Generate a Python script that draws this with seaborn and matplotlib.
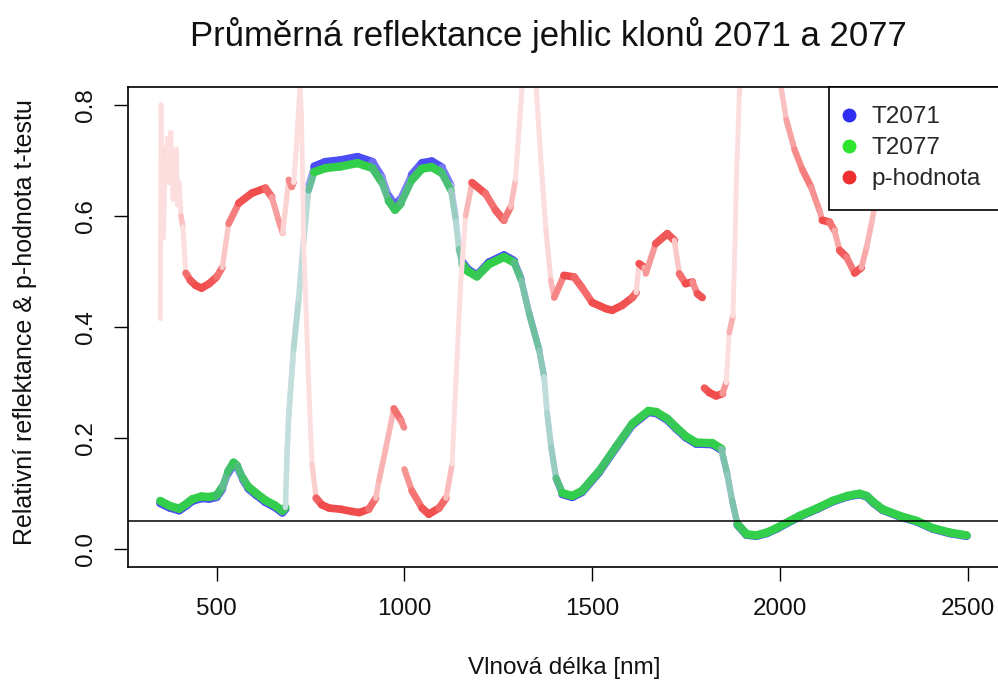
import numpy as np
import pandas as pd
import matplotlib
matplotlib.use("Agg")
import matplotlib.pyplot as plt
from matplotlib.lines import Line2D
from matplotlib.collections import LineCollection
from matplotlib.colors import to_rgb
import seaborn as sns

# ---------------- data ----------------
wl_refl = [350, 375, 400, 420, 435, 460, 480, 500, 515, 530, 545, 555, 570, 585, 605,
           630, 655, 675, 683, 688, 692, 705, 719, 732, 745, 760, 790, 830, 875, 915,
           940, 958, 975, 990, 1020, 1047, 1073, 1100, 1124, 1137, 1145, 1155, 1170,
           1193, 1225, 1265, 1292, 1311, 1332, 1359, 1372, 1380, 1391, 1404, 1421,
           1447, 1473, 1519, 1564, 1607, 1650, 1671, 1700, 1724, 1750, 1777, 1820,
           1844, 1860, 1873, 1887, 1911, 1937, 1965, 1991, 2052, 2100, 2140, 2180,
           2212, 2231, 2250, 2273, 2319, 2364, 2407, 2452, 2497]

t2077 = [0.087, 0.078, 0.073, 0.082, 0.090, 0.095, 0.094, 0.097, 0.112, 0.140, 0.156,
         0.150, 0.128, 0.112, 0.101, 0.088, 0.079, 0.069, 0.075, 0.180, 0.240, 0.360,
         0.450, 0.556, 0.646, 0.679, 0.686, 0.689, 0.695, 0.686, 0.660, 0.627, 0.611,
         0.622, 0.665, 0.685, 0.688, 0.677, 0.646, 0.590, 0.540, 0.512, 0.500, 0.491,
         0.513, 0.526, 0.516, 0.484, 0.424, 0.358, 0.310, 0.245, 0.183, 0.128, 0.101,
         0.096, 0.105, 0.141, 0.185, 0.226, 0.249, 0.247, 0.235, 0.219, 0.203, 0.192,
         0.191, 0.181, 0.135, 0.087, 0.045, 0.027, 0.025, 0.030, 0.038, 0.060, 0.074,
         0.087, 0.096, 0.100, 0.096, 0.084, 0.072, 0.060, 0.051, 0.038, 0.030, 0.025]

t2071 = [0.083, 0.075, 0.070, 0.079, 0.087, 0.092, 0.091, 0.094, 0.108, 0.136, 0.152,
         0.147, 0.125, 0.109, 0.098, 0.085, 0.076, 0.066, 0.072, 0.180, 0.242, 0.365,
         0.458, 0.565, 0.656, 0.689, 0.697, 0.700, 0.706, 0.697, 0.670, 0.636, 0.619,
         0.630, 0.674, 0.695, 0.698, 0.687, 0.655, 0.598, 0.546, 0.516, 0.503, 0.493,
         0.516, 0.529, 0.519, 0.487, 0.426, 0.359, 0.311, 0.246, 0.183, 0.127, 0.099,
         0.094, 0.103, 0.139, 0.183, 0.224, 0.247, 0.245, 0.233, 0.217, 0.201, 0.190,
         0.189, 0.179, 0.133, 0.086, 0.044, 0.026, 0.024, 0.029, 0.037, 0.059, 0.073,
         0.086, 0.095, 0.099, 0.095, 0.083, 0.071, 0.059, 0.050, 0.037, 0.029, 0.024]

# p-values, three detector segments
p_wl_a = [350, 352, 355, 358, 360, 363, 366, 369, 372, 375, 378, 381, 384, 387, 390,
          393, 396, 400, 405, 410, 418, 430, 444, 460, 480, 500, 515, 532, 559, 594,
          630, 647, 665, 676, 686, 692, 700, 705, 712, 718, 722, 726, 732, 745, 754,
          765, 780, 800, 830, 860, 880, 905, 924, 932, 950, 972, 991, 999]
p_val_a = [0.415, 0.800, 0.650, 0.560, 0.610, 0.720, 0.700, 0.740, 0.660, 0.720,
           0.750, 0.690, 0.630, 0.700, 0.670, 0.720, 0.620, 0.660, 0.600, 0.580,
           0.497, 0.484, 0.475, 0.470, 0.478, 0.490, 0.507, 0.586, 0.623, 0.641,
           0.650, 0.634, 0.592, 0.569, 0.630, 0.665, 0.652, 0.660, 0.720, 0.790,
           0.830, 0.780, 0.545, 0.300, 0.153, 0.092, 0.080, 0.074, 0.072, 0.068,
           0.066, 0.072, 0.092, 0.123, 0.180, 0.253, 0.232, 0.219]

p_wl_b = [1000, 1020, 1047, 1065, 1092, 1111, 1127, 1137, 1150, 1163, 1180, 1216,
          1243, 1265, 1283, 1296, 1305, 1313, 1325, 1335, 1345, 1351, 1364, 1377,
          1390, 1399, 1425, 1452, 1473, 1500, 1537, 1553, 1580, 1607, 1617, 1625,
          1639, 1643, 1669, 1700, 1719, 1732, 1749, 1767, 1780, 1793]
p_val_b = [0.144, 0.105, 0.074, 0.063, 0.074, 0.092, 0.153, 0.300, 0.480, 0.600,
           0.660, 0.640, 0.610, 0.592, 0.616, 0.665, 0.755, 0.827, 0.950, 1.000,
           0.950, 0.830, 0.695, 0.574, 0.484, 0.453, 0.493, 0.490, 0.471, 0.444,
           0.433, 0.430, 0.439, 0.453, 0.462, 0.514, 0.507, 0.496, 0.550, 0.568,
           0.556, 0.496, 0.478, 0.481, 0.460, 0.453]

p_wl_c = [1799, 1812, 1830, 1847, 1857, 1865, 1875, 1880, 1884, 1892, 1910, 1950,
          1990, 2004, 2017, 2039, 2060, 2083, 2105, 2113, 2132, 2145, 2159, 2177,
          2199, 2217, 2231, 2244, 2252, 2262, 2275, 2300, 2400, 2500]
p_val_c = [0.290, 0.282, 0.276, 0.280, 0.300, 0.390, 0.420, 0.544, 0.665, 0.820,
           0.950, 1.000, 0.900, 0.827, 0.773, 0.719, 0.683, 0.652, 0.610, 0.592,
           0.589, 0.574, 0.538, 0.526, 0.497, 0.507, 0.544, 0.587, 0.616, 0.680,
           0.780, 0.880, 0.950, 0.970]

series_labels = ["T2071", "T2077", "p-hodnota"]
x_ticks = [500, 1000, 1500, 2000, 2500]
y_ticks = [0.0, 0.2, 0.4, 0.6, 0.8]
threshold = 0.05

# ---------------- styling ----------------
sns.set_theme(style="white")
plt.rcParams['font.family'] = ['Liberation Sans', 'DejaVu Sans']

C_BLUE = "#2f2ff2"
C_GREEN = "#2ee42e"
C_RED = "#ee2f2f"

refl = pd.DataFrame({"wl": wl_refl, "T2071": t2071, "T2077": t2077})
pval = pd.DataFrame({
    "wl": p_wl_a + p_wl_b + p_wl_c,
    "p": p_val_a + p_val_b + p_val_c,
    "seg": ["a"] * len(p_wl_a) + ["b"] * len(p_wl_b) + ["c"] * len(p_wl_c),
})

W, H = 998, 684
fig = plt.figure(figsize=(W / 100, H / 100), dpi=100)
L, R, T, B = 128, 1000, 87, 567
ax = fig.add_axes([L / W, (H - B) / H, (R - L) / W, (B - T) / H])
ax.set_xlim(264, 2586)
ax.set_ylim(-0.032, 0.832)


def seg_flatness(line):
    disp = ax.transData.transform(line.get_xydata())
    d = np.diff(disp, axis=0)
    return np.abs(d[:, 0]) / np.maximum(np.hypot(d[:, 0], d[:, 1]), 1e-9)


def fade_line(line, color, base=None, lw=6.0, z=2):
    """Dense semi-transparent dot trace: steep stretches look faint and thin."""
    pts = line.get_xydata()
    f = seg_flatness(line)
    a = np.clip(1 - (1 - 0.1) ** (21 * f), 0.16, 0.86)[:, None]
    c = np.array(to_rgb(color))[None, :]
    bg = np.ones_like(c) if base is None else base
    cols = bg * (1 - a) + c * a
    widths = lw * (0.62 + 0.38 * np.clip(f * 1.6, 0, 1))
    segs = np.stack([pts[:-1], pts[1:]], axis=1)
    lc = LineCollection(segs, colors=cols, linewidths=widths, capstyle="round",
                        joinstyle="round", zorder=z)
    ax.add_collection(lc)
    line.remove()
    return cols


def draw(y, color, base=None, lw=6.0, z=2, **kw):
    n0 = len(ax.lines)
    sns.lineplot(x="wl", y=y, ax=ax, estimator=None, sort=False, color=color, **kw)
    out = None
    for ln in list(ax.lines[n0:]):
        out = fade_line(ln, color, base=base, lw=lw, z=z)
    return out


blue_cols = draw("T2071", C_BLUE, data=refl, lw=6.0, z=2)
draw("T2077", C_GREEN, base=blue_cols, data=refl, lw=6.0, z=2.1)
draw("p", C_RED, data=pval, units="seg", lw=5.5, z=2.2)
ax.axhline(threshold, color="black", lw=1.1, zorder=3)

ax.set_xlim(264, 2586)
ax.set_ylim(-0.032, 0.832)
ax.set_xticks(x_ticks)
ax.set_xticklabels([str(v) for v in x_ticks])
ax.set_yticks(y_ticks)
ax.set_yticklabels([f"{v:.1f}" for v in y_ticks], rotation=90, va="center")
ax.tick_params(axis="both", direction="out", length=10, width=1.0, color="black",
               labelsize=17.5, labelcolor="#111111", pad=12,
               bottom=True, left=True)
ax.set_xlabel("")
ax.set_ylabel("")
for s in ax.spines.values():
    s.set_color("black")
    s.set_linewidth(1.2)
    s.set_visible(True)

fig.text(548 / W, 1 - 35 / H, "Průměrná reflektance jehlic klonů 2071 a 2077",
         ha="center", va="center", fontsize=25, color="#111111")
fig.text(564 / W, 1 - 668 / H, "Vlnová délka [nm]", ha="center", va="center",
         fontsize=17.5, color="#111111")
fig.text(25 / W, 1 - 322 / H, "Relativní reflektance & p-hodnota t-testu",
         ha="center", va="center", rotation=90, fontsize=18, color="#111111")

handles = [Line2D([], [], marker="o", ls="", color=c, markersize=9)
           for c in (C_BLUE, C_GREEN, C_RED)]
leg = ax.legend(handles, series_labels, loc="upper right", borderaxespad=0,
                fontsize=17.5, frameon=True, fancybox=False, framealpha=1,
                edgecolor="black", handlelength=0.05, handletextpad=0.9,
                labelspacing=0.37, borderpad=0.8)
leg.get_frame().set_linewidth(1.2)
leg.set_zorder(10)

fig.savefig("out.png", dpi=100)
